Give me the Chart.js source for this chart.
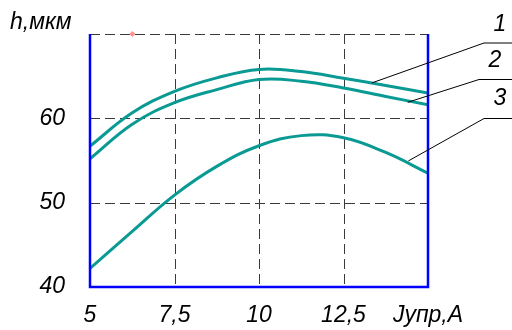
<!DOCTYPE html>
<html>
<head>
<meta charset="utf-8">
<script src="https://cdn.jsdelivr.net/npm/chart.js@4.4.1/dist/chart.umd.min.js"></script>
<style>
  html, body { margin: 0; padding: 0; background: #fff; }
  #wrap { width: 512px; height: 330px; }
</style>
</head>
<body>
<div id="wrap"><canvas id="c"></canvas></div>
<script>
// Jупр, A
var current = [5, 6.25, 7.5, 8.75, 10, 11.25, 12.5, 13.75, 15];
// h, мкм
var curve1 = [56.7, 60.65, 63.2, 64.8, 65.8, 65.55, 64.75, 63.9, 63.0];
var curve2 = [55.2, 59.3, 61.85, 63.4, 64.6, 64.4, 63.6, 62.6, 61.6];
var curve3 = [42.2, 46.6, 50.9, 54.3, 56.75, 57.95, 57.7, 55.95, 53.5];
var xTicks = [5, 7.5, 10, 12.5, 15];
var xTickLabels = ['5', '7,5', '10', '12,5', 'Jупр,А'];
var yTicks = [40, 50, 60, 70];
var yTickLabels = ['40', '50', '60', ''];
var curveNames = ['1', '2', '3'];
var markX = [6.25];
var markY = [70];

(function () {
    'use strict';

    var TEAL = '#0a9a94';
    var BLUE = '#0000ff';
    var FONT = '"Liberation Sans Narrow", "Liberation Sans", Arial, sans-serif';

    function points(ys) {
        return current.map(function (x, i) { return { x: x, y: ys[i] }; });
    }

    function lineSet(ys) {
        return {
            data: points(ys),
            borderColor: TEAL,
            borderWidth: 3,
            pointRadius: 0,
            tension: 0.4,
            fill: false
        };
    }

    // leader lines with curve numbers on the right
    var leaders = [
        { x: 13.34, y: 64.2, ex: 484, ey: 43, tx: 500, ty: 25 },
        { x: 14.40, y: 61.9, ex: 479, ey: 79.5, tx: 495, ty: 61 },
        { x: 14.42, y: 54.95, ex: 484, ey: 118.5, tx: 500, ty: 99 }
    ];

    var decor = {
        id: 'decor',
        beforeDatasetsDraw: function (chart) {
            // dashed grid
            var ctx = chart.ctx;
            var xs = chart.scales.x, ys = chart.scales.y;
            var a = chart.chartArea;
            ctx.save();
            ctx.strokeStyle = '#3a3a3a';
            ctx.lineWidth = 1;
            ctx.setLineDash([10, 5]);
            yTicks.forEach(function (v) {
                if (v === ys.min) { return; }
                var y = Math.round(ys.getPixelForValue(v)) + 0.5;
                ctx.beginPath();
                ctx.moveTo(a.left, y);
                ctx.lineTo(a.right, y);
                ctx.stroke();
            });
            xTicks.forEach(function (v) {
                if (v === xs.min || v === xs.max) { return; }
                var x = Math.round(xs.getPixelForValue(v)) + 0.5;
                ctx.beginPath();
                ctx.moveTo(x, a.top);
                ctx.lineTo(x, a.bottom);
                ctx.stroke();
            });
            ctx.restore();
        },
        afterDatasetsDraw: function (chart) {
            var ctx = chart.ctx;
            var xs = chart.scales.x, ys = chart.scales.y;
            var a = chart.chartArea;
            ctx.save();
            // blue frame: left, bottom, right
            ctx.strokeStyle = BLUE;
            ctx.lineWidth = 2.5;
            ctx.setLineDash([]);
            ctx.beginPath();
            ctx.moveTo(a.left, a.top);
            ctx.lineTo(a.left, a.bottom);
            ctx.lineTo(a.right, a.bottom);
            ctx.lineTo(a.right, a.top);
            ctx.stroke();

            ctx.strokeStyle = '#000';
            ctx.lineWidth = 1;
            ctx.fillStyle = '#000';
            ctx.font = 'italic 23px ' + FONT;
            ctx.textAlign = 'center';
            ctx.textBaseline = 'middle';
            leaders.forEach(function (l, i) {
                ctx.beginPath();
                ctx.moveTo(xs.getPixelForValue(l.x), ys.getPixelForValue(l.y));
                ctx.lineTo(l.ex, l.ey);
                ctx.lineTo(chart.width, l.ey);
                ctx.stroke();
                ctx.fillText(curveNames[i], l.tx, l.ty);
            });

            // axis title
            ctx.textAlign = 'left';
            ctx.fillText('h,мкм', 10, 23);
            ctx.restore();
        }
    };

    new Chart(document.getElementById('c'), {
        type: 'line',
        data: {
            datasets: [
                lineSet(curve1),
                lineSet(curve2),
                lineSet(curve3),
                {
                    data: markX.map(function (x, i) { return { x: x, y: markY[i] }; }),
                    showLine: false,
                    pointStyle: 'rectRot',
                    pointRadius: 2.5,
                    pointBackgroundColor: '#ff9090',
                    pointBorderColor: '#ff9090',
                    clip: false
                }
            ]
        },
        options: {
            responsive: true,
            maintainAspectRatio: false,
            animation: false,
            events: [],
            layout: { padding: { top: 34, left: 0, right: 0, bottom: 0 } },
            plugins: {
                legend: { display: false },
                tooltip: { enabled: false }
            },
            scales: {
                x: {
                    type: 'linear',
                    min: 5,
                    max: 15,
                    afterBuildTicks: function (s) {
                        s.ticks = xTicks.map(function (v) { return { value: v }; });
                    },
                    afterFit: function (s) {
                        s.height = 43;
                        s.paddingLeft = 0;
                        s.paddingRight = 0;
                    },
                    grid: { display: false, drawTicks: false },
                    border: { display: false },
                    ticks: {
                        autoSkip: false,
                        maxRotation: 0,
                        padding: 15,
                        color: '#000',
                        font: { family: FONT, size: 23, style: 'italic' },
                        callback: function (v) {
                            var i = xTicks.indexOf(v);
                            return i >= 0 ? xTickLabels[i] : '';
                        }
                    }
                },
                y: {
                    min: 40,
                    max: 70,
                    afterBuildTicks: function (s) {
                        s.ticks = yTicks.map(function (v) { return { value: v }; });
                    },
                    afterFit: function (s) {
                        s.width = 90;
                        s.paddingTop = 0;
                        s.paddingBottom = 0;
                    },
                    grid: { display: false, drawTicks: false },
                    border: { display: false },
                    ticks: {
                        padding: 25,
                        color: '#000',
                        font: { family: FONT, size: 23, style: 'italic' },
                        callback: function (v) {
                            var i = yTicks.indexOf(v);
                            return i >= 0 ? yTickLabels[i] : '';
                        }
                    }
                },
                y2: {
                    position: 'right',
                    min: 40,
                    max: 70,
                    afterFit: function (s) {
                        s.width = 84;
                        s.paddingTop = 0;
                        s.paddingBottom = 0;
                    },
                    grid: { display: false },
                    border: { display: false },
                    ticks: { display: false }
                }
            }
        },
        plugins: [decor]
    });
})();
</script>
</body>
</html>
